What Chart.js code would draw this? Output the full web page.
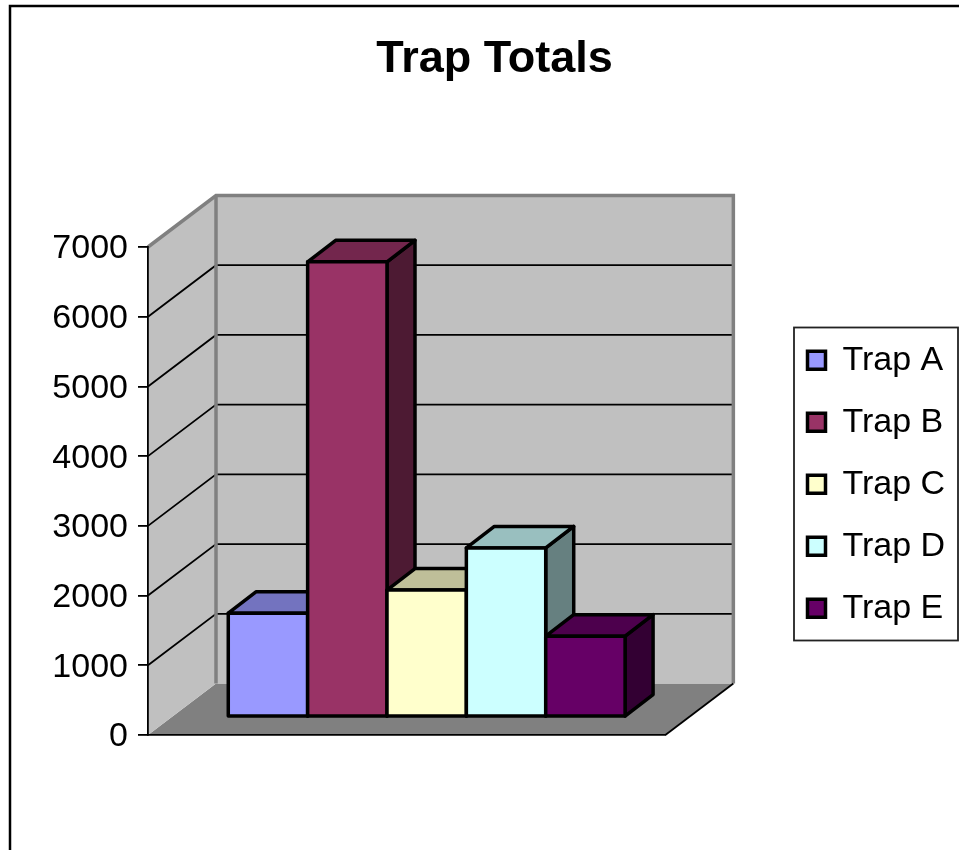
<!DOCTYPE html>
<html>
<head>
<meta charset="utf-8">
<title>Trap Totals</title>
<script src="https://cdn.jsdelivr.net/npm/chart.js@4"></script>
<style>
  html, body { margin: 0; padding: 0; background: #fff; }
  canvas { display: block; }
</style>
</head>
<body>
<canvas id="chart" width="959" height="850"></canvas>
<script>
const categories = ['Traps'];
const trapNames = ['Trap A', 'Trap B', 'Trap C', 'Trap D', 'Trap E'];
const trapTotals = [1490, 6530, 1820, 2425, 1160];
const trapColors = ['#9999ff', '#993366', '#ffffcc', '#ccffff', '#660066'];
const yTicks = [0, 1000, 2000, 3000, 4000, 5000, 6000, 7000];

// depth of the fake 3D box, walls and bars
const wallDepth = { x: 68, y: -51.5 };
const barDepth = { x: 28, y: -21.5 };
const barShift = { x: 20, y: -18 };

function shade(hex, f) {
  const n = parseInt(hex.slice(1), 16);
  const c = [n >> 16, (n >> 8) & 255, n & 255].map(v => Math.round(v * f));
  return `rgb(${c[0]},${c[1]},${c[2]})`;
}

function poly(ctx, pts, fill, stroke, width) {
  ctx.beginPath();
  pts.forEach((p, i) => (i ? ctx.lineTo(p[0], p[1]) : ctx.moveTo(p[0], p[1])));
  ctx.closePath();
  if (fill) {
    ctx.fillStyle = fill;
    ctx.fill();
  }
  if (stroke) {
    ctx.strokeStyle = stroke;
    ctx.lineWidth = width;
    ctx.lineJoin = 'round';
    ctx.stroke();
  }
}

function line(ctx, pts, color, width) {
  ctx.beginPath();
  pts.forEach((p, i) => (i ? ctx.lineTo(p[0], p[1]) : ctx.moveTo(p[0], p[1])));
  ctx.strokeStyle = color;
  ctx.lineWidth = width;
  ctx.stroke();
}

const box3d = {
  id: 'box3d',
  afterLayout(chart) {
    // move title and legend to where the reference has them
    const t = chart.titleBlock;
    t.left = 30;
    t.right = chart.width;
    const lg = chart.legend;
    lg.top = 267.5;
    lg.bottom = 701;
    lg.height = lg.bottom - lg.top;
    lg.left = 807.5 - lg.options.labels.padding;
    lg.right = chart.width;
    lg.width = lg.right - lg.left;
  },
  beforeDraw(chart) {
    const ctx = chart.ctx;
    const { left, right, top, bottom } = chart.chartArea;
    const d = wallDepth;
    const y = chart.scales.y;
    ctx.save();
    ctx.fillStyle = '#fff';
    ctx.fillRect(0, 0, chart.width, chart.height);
    line(ctx, [[10, chart.height], [10, 6], [chart.width, 6]], '#000', 2.5);

    // floor, side wall, back wall
    poly(ctx, [[left, bottom], [right, bottom], [right + d.x, bottom + d.y], [left + d.x, bottom + d.y]], '#808080');
    poly(ctx, [[left, top], [left + d.x, top + d.y], [left + d.x, bottom + d.y], [left, bottom]], '#c0c0c0');
    poly(ctx, [[left + d.x, top + d.y], [right + d.x, top + d.y], [right + d.x, bottom + d.y], [left + d.x, bottom + d.y]], '#c0c0c0');

    yTicks.slice(1, -1).forEach(v => {
      const py = y.getPixelForValue(v);
      line(ctx, [[left, py], [left + d.x, py + d.y], [right + d.x, py + d.y]], '#000', 1.8);
    });

    line(ctx, [[left, top], [left + d.x, top + d.y], [right + d.x, top + d.y], [right + d.x, bottom + d.y]], '#808080', 3.5);
    line(ctx, [[left + d.x, top + d.y], [left + d.x, bottom + d.y]], '#808080', 3.5);
    line(ctx, [[right, bottom], [right + d.x, bottom + d.y]], '#000', 1.8);
    ctx.restore();
  },
  beforeDatasetsDraw(chart) {
    // Chart.js paints the last dataset first, here the right bar has to cover the left one
    const ctx = chart.ctx;
    const d = barDepth;
    chart.getSortedVisibleDatasetMetas().forEach(meta => {
      const bar = meta.data[0];
      const l = bar.x - bar.width / 2;
      const r = bar.x + bar.width / 2;
      const t = bar.y;
      const b = bar.base;
      const color = chart.data.datasets[meta.index].backgroundColor;
      ctx.save();
      ctx.translate(barShift.x, barShift.y);
      poly(ctx, [[r, t], [r + d.x, t + d.y], [r + d.x, b + d.y], [r, b]], shade(color, 0.5), '#000', 3.5);
      poly(ctx, [[l, t], [l + d.x, t + d.y], [r + d.x, t + d.y], [r, t]], shade(color, 0.75), '#000', 3.5);
      meta.controller.draw();
      ctx.strokeStyle = '#000';
      ctx.lineWidth = 3.5;
      ctx.strokeRect(l, t, bar.width, b - t);
      ctx.restore();
    });
    return false;
  },
  afterDraw(chart) {
    const ctx = chart.ctx;
    ctx.save();
    ctx.strokeStyle = '#222';
    ctx.lineWidth = 1.8;
    ctx.strokeRect(794, 327.5, 164, 313);
    ctx.restore();
  }
};

new Chart(document.getElementById('chart'), {
  type: 'bar',
  data: {
    labels: categories,
    datasets: trapNames.map((name, i) => ({
      label: name,
      data: [trapTotals[i]],
      backgroundColor: trapColors[i],
      borderWidth: 0
    }))
  },
  options: {
    responsive: false,
    animation: false,
    categoryPercentage: 0.767,
    barPercentage: 1,
    layout: { padding: { left: 10, right: 118, top: 0, bottom: 115 } },
    scales: {
      x: {
        afterFit: s => { s.height = 0; },
        ticks: { display: false },
        grid: { display: false },
        border: { color: '#000', width: 1.8 }
      },
      y: {
        min: 0,
        max: 7000,
        afterFit: s => { s.width = 138; },
        afterBuildTicks: s => { s.ticks = yTicks.map(v => ({ value: v })); },
        ticks: {
          color: '#000',
          padding: 10,
          labelOffset: 2,
          callback: v => String(v),
          font: { family: '"Liberation Sans", Arial, sans-serif', size: 34 }
        },
        grid: { drawOnChartArea: false, color: '#000', tickLength: 10, lineWidth: 1.8 },
        border: { color: '#000', width: 1.8 }
      }
    },
    plugins: {
      tooltip: { enabled: false },
      title: {
        display: true,
        text: 'Trap Totals',
        color: '#000',
        font: { family: '"Liberation Sans", Arial, sans-serif', size: 45, weight: 'bold' },
        padding: { top: 33, bottom: 160 }
      },
      legend: {
        position: 'right',
        labels: {
          boxWidth: 18,
          boxHeight: 18,
          padding: 28,
          color: '#000',
          font: { family: '"Liberation Sans", Arial, sans-serif', size: 34 },
          generateLabels(chart) {
            return Chart.defaults.plugins.legend.labels.generateLabels(chart).map(item => ({
              ...item,
              strokeStyle: '#000',
              lineWidth: 3.5
            }));
          }
        }
      }
    }
  },
  plugins: [box3d]
});
</script>
</body>
</html>
